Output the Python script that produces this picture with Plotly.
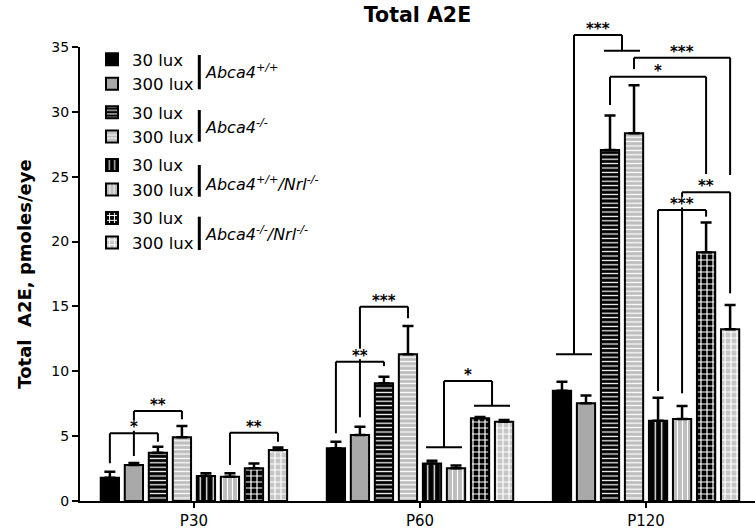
import plotly.graph_objects as go

# ---------------- data ----------------
categories = ["P30", "P60", "P120"]
lux_labels = ["30 lux", "300 lux"]
genotype_labels = [
    "<i>Abca4<sup>+/+</sup></i>",
    "<i>Abca4<sup>-/-</sup></i>",
    "<i>Abca4<sup>+/+</sup>/Nrl<sup>-/-</sup></i>",
    "<i>Abca4<sup>-/-</sup>/Nrl<sup>-/-</sup></i>",
]

wt_30 = [1.80, 4.06, 8.50]
wt_300 = [2.78, 5.09, 7.53]
ko_30 = [3.72, 9.07, 27.06]
ko_300 = [4.91, 11.31, 28.35]
wtnrl_30 = [1.93, 2.90, 6.19]
wtnrl_300 = [1.87, 2.52, 6.32]
konrl_30 = [2.52, 6.38, 19.17]
konrl_300 = [3.93, 6.11, 13.24]

wt_30_err = [0.45, 0.50, 0.70]
wt_300_err = [0.15, 0.64, 0.60]
ko_30_err = [0.47, 0.50, 2.65]
ko_300_err = [0.87, 2.18, 3.70]
wtnrl_30_err = [0.20, 0.20, 1.77]
wtnrl_300_err = [0.26, 0.22, 1.00]
konrl_30_err = [0.38, 0.10, 2.30]
konrl_300_err = [0.20, 0.13, 1.87]

# significance brackets: (group, left bar, right bar, bracket level, left leg end, right leg end, label)
brackets = [
    (0, 0, 2, 5.22, 2.91, 4.57, "*"),
    (0, 1, 3, 6.94, 3.47, 6.30, "**"),
    (0, 5, 7, 5.27, 2.78, 4.57, "**"),
    (1, 0, 2, 10.74, 5.22, 10.40, "**"),
    (1, 1, 3, 14.98, 6.45, 14.09, "***"),
    (1, 4.5, 6.5, 9.25, 4.14, 7.35, "*"),
    (2, 0.5, 2.5, 35.93, 11.31, 34.72, "***"),
    (2, 3, 7, 34.18, 33.29, 25.13, "***"),
    (2, 2, 6, 32.71, 30.53, 25.21, "*"),
    (2, 5, 7, 23.80, 8.30, 16.01, "**"),
    (2, 4, 6, 22.44, 8.48, 21.92, "***"),
]
# pooled-comparison bars: (group, centre bar, level)
pooled_lines = [(1, 4.5, 4.14), (1, 6.5, 7.35), (2, 0.5, 11.31), (2, 2.5, 34.72)]

# ---------------- style ----------------
FONT = "DejaVu Sans"
YMAX = 35
BARGAP = 0.15
NBARS = 8
PITCH = (1 - BARGAP) / NBARS
PX_PER_UNIT = 454 / YMAX

values = [wt_30, wt_300, ko_30, ko_300, wtnrl_30, wtnrl_300, konrl_30, konrl_300]
errors = [wt_30_err, wt_300_err, ko_30_err, ko_300_err,
          wtnrl_30_err, wtnrl_300_err, konrl_30_err, konrl_300_err]
bg_colors = ["#000000", "#a9a9a9", "#000000", "#bdbdbd", "#000000", "#bdbdbd", "#000000", "#c6c6c6"]
pat_shapes = ["", "", "-", "-", "|", "|", "+", "+"]
pat_sizes = [8, 8, 4.4, 4.4, 6.5, 5.0, 6.0, 6.0]
pat_solid = [0.3, 0.3, 0.28, 0.28, 0.2, 0.22, 0.36, 0.36]

xpos = list(range(len(categories)))

fig = go.Figure()
for i in range(NBARS):
    fig.add_trace(go.Bar(
        x=xpos, y=values[i],
        name=lux_labels[i % 2],
        legendgroup="g%d" % (i // 2),
        marker=dict(
            color=bg_colors[i],
            line=dict(color="black", width=2),
            pattern=dict(shape=pat_shapes[i], fgcolor="white", bgcolor=bg_colors[i],
                         size=pat_sizes[i], solidity=pat_solid[i], fillmode="replace"),
        ),
        error_y=dict(type="data", array=errors[i], arrayminus=[0] * len(errors[i]),
                     symmetric=False, color="black", thickness=2.5, width=5.5),
    ))


def bx(g, k):
    return g + (k - (NBARS - 1) / 2) * PITCH


def yp(v):
    return v / YMAX


shapes = []
line_style = dict(color="black", width=2)
legs = []
for g, kl, kr, top, lb, rb, lab in brackets:
    x1, x2 = bx(g, kl), bx(g, kr)
    shapes.append(dict(type="line", xref="x", yref="paper", x0=x1, x1=x2, y0=yp(top), y1=yp(top), line=line_style))
    shapes.append(dict(type="line", xref="x", yref="paper", x0=x1, x1=x1, y0=yp(top), y1=yp(lb), line=line_style))
    shapes.append(dict(type="line", xref="x", yref="paper", x0=x2, x1=x2, y0=yp(top), y1=yp(rb), line=line_style))
    legs.append((g, kl, lb, top))
    legs.append((g, kr, rb, top))
for g, c, lvl in pooled_lines:
    shapes.append(dict(type="line", xref="x", yref="paper", x0=bx(g, c - 0.75), x1=bx(g, c + 0.75),
                       y0=yp(lvl), y1=yp(lvl), line=line_style))

annotations = []
off_lo = 2.5 / PX_PER_UNIT
off_hi = 13 / PX_PER_UNIT
for g, kl, kr, top, lb, rb, lab in brackets:
    mid = (kl + kr) / 2
    # white gap where a star sits on another bracket's leg
    for lg, lk, lo, hi in legs:
        if lg == g and abs(lk - mid) < 1e-9 and lo < top + off_lo and hi > top + off_hi:
            shapes.append(dict(type="line", xref="x", yref="paper", x0=bx(g, mid), x1=bx(g, mid),
                               y0=yp(top + off_lo), y1=yp(top + off_hi), line=dict(color="white", width=4)))
    annotations.append(dict(x=bx(g, mid), y=yp(top), xref="x", yref="paper", text="<b>" + lab + "</b>",
                            showarrow=False, yanchor="middle", yshift=6,
                            font=dict(family=FONT, size=15, color="#000000")))

# legend genotype labels and bars
leg_label_y = [71.7, 126.0, 183.3, 233.3]
leg_bar_span = [(55, 89.3), (110, 141.7), (165, 196.7), (216.7, 250)]
H_PLOT = 454
TOP = 47


def py2paper(py):
    return (TOP + H_PLOT - py) / H_PLOT


for lab, ly, (a, b) in zip(genotype_labels, leg_label_y, leg_bar_span):
    annotations.append(dict(x=(203 - 80) / 675, y=py2paper(ly), xref="paper", yref="paper",
                            text=lab, showarrow=False, xanchor="left", yanchor="middle",
                            font=dict(family=FONT, size=16, color="#000000")))
    shapes.append(dict(type="line", xref="paper", yref="paper",
                       x0=(199.3 - 80) / 675, x1=(199.3 - 80) / 675,
                       y0=py2paper(a), y1=py2paper(b), line=dict(color="black", width=3)))

fig.update_layout(
    template="none",
    width=755, height=531,
    margin=dict(l=80, r=0, t=TOP, b=30),
    paper_bgcolor="white", plot_bgcolor="white",
    barmode="group", bargap=BARGAP, bargroupgap=0.24,
    title=dict(text="<b>Total A2E</b>", x=0.5, xref="paper", xanchor="center",
               y=1 - 15 / 531, yanchor="middle",
               font=dict(family=FONT, size=20.5, color="#000000")),
    font=dict(family=FONT, color="#000000"),
    showlegend=True,
    legend=dict(x=(92 - 80) / 675, y=py2paper(42), xanchor="left", yanchor="top",
                font=dict(family=FONT, size=16.5, color="#000000"),
                tracegroupgap=4, bgcolor="rgba(0,0,0,0)", traceorder="grouped"),
    xaxis=dict(range=[-0.504, 2.482], tickvals=xpos, ticktext=categories,
               showline=True, linecolor="black", linewidth=2, ticks="outside",
               ticklen=5, tickwidth=2, tickcolor="black", showgrid=False, zeroline=False,
               tickfont=dict(family=FONT, size=15, color="#000000"), tickprefix="<b>", ticksuffix="</b>"),
    yaxis=dict(range=[0, YMAX], tickvals=[0, 5, 10, 15, 20, 25, 30, 35],
               showline=True, linecolor="black", linewidth=2, ticks="outside",
               ticklen=6, tickwidth=2, tickcolor="black", showgrid=False, zeroline=False,
               tickfont=dict(family=FONT, size=14, color="#000000"), tickprefix="<b>", ticksuffix="</b>",
               title=dict(text="<b>Total\u00a0 A2E, pmoles/eye</b>", standoff=15,
                          font=dict(family=FONT, size=18, color="#000000"))),
    shapes=shapes,
    annotations=annotations,
)

fig.write_html("out.html", config={"displayModeBar": False},
               post_script="document.body.style.margin='0px';document.body.style.padding='0px';")
